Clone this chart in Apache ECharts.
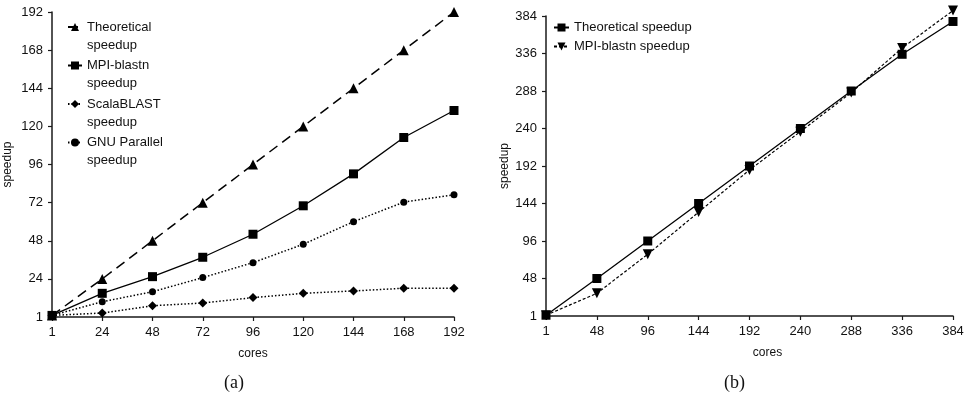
<!DOCTYPE html>
<html>
<head>
<meta charset="utf-8">
<script src="https://cdn.jsdelivr.net/npm/echarts@6/dist/echarts.min.js"></script>
<style>
html,body{margin:0;padding:0;background:#fff;}
#c{width:973px;height:405px;}
</style>
</head>
<body>
<div id="c"></div>
<script>
// ---- data: panel (a) ----
var coresA = ['1','24','48','72','96','120','144','168','192'];
var yLabelsA = ['1','24','48','72','96','120','144','168','192'];
var theoreticalA = [1, 24, 48, 72, 96, 120, 144, 168, 192];
var mpiBlastnA = [1, 14.9, 25.4, 37.6, 52.1, 70, 90.1, 113, 130];
var scalaBlastA = [1, 2.5, 7.1, 8.8, 12.2, 14.9, 16.4, 18.1, 18.1];
var gnuParallelA = [1, 9.6, 15.9, 24.8, 34.2, 45.8, 60, 72.3, 76.9];

// ---- data: panel (b) ----
var coresB = ['1','48','96','144','192','240','288','336','384'];
var yLabelsB = ['1','48','96','144','192','240','288','336','384'];
var theoreticalB = [1, 48, 96, 144, 192, 240, 288, 335, 377];
var mpiBlastnB = [1, 29, 79, 133, 187, 236, 286, 343, 391];

var FONT = 'Liberation Sans';
var AX = '#1a1a1a';

var chart = echarts.init(document.getElementById('c'), null, {renderer: 'canvas'});

function xAxisCfg(data, gridIndex, namePad) {
  return {
    type: 'category', gridIndex: gridIndex, data: data, boundaryGap: false,
    name: 'cores', nameLocation: 'middle', nameGap: 31,
    nameTextStyle: {fontFamily: FONT, fontSize: 12, color: '#111', padding: namePad},
    axisLine: {lineStyle: {color: AX, width: 1.5}},
    axisTick: {show: true, length: 4, lineStyle: {color: AX, width: 1.2}},
    axisLabel: {fontFamily: FONT, fontSize: 13, color: '#111', margin: 9},
    splitLine: {show: false}
  };
}
function yAxisCfg(labels, max, interval, gridIndex, nameGap) {
  return {
    type: 'value', gridIndex: gridIndex, min: 0, max: max, interval: interval,
    name: 'speedup', nameLocation: 'middle', nameGap: nameGap, nameRotate: 90,
    nameTextStyle: {fontFamily: FONT, fontSize: 12, color: '#111'},
    axisLine: {show: true, lineStyle: {color: AX, width: 1.5}},
    axisTick: {show: true, length: 4, lineStyle: {color: AX, width: 1.2}},
    axisLabel: {fontFamily: FONT, fontSize: 13, color: '#111', margin: 9,
      formatter: function (v) { return labels[Math.round(v / interval)]; }},
    splitLine: {show: false}
  };
}
function lineSeries(name, data, idx, symbol, size, lineType, width, rotate) {
  return {
    name: name, type: 'line', xAxisIndex: idx, yAxisIndex: idx, data: data,
    symbol: symbol, symbolSize: size, symbolRotate: rotate || 0, clip: false,
    showAllSymbol: true,
    lineStyle: {color: '#000', width: width, type: lineType},
    itemStyle: {color: '#000', borderWidth: 0},
    emphasis: {disabled: true}, animation: false
  };
}

chart.setOption({
  animation: false,
  backgroundColor: '#fff',
  textStyle: {fontFamily: FONT},
  grid: [
    {left: 52, right: 519, top: 12, bottom: 88, containLabel: false},
    {left: 546, right: 20, top: 16, bottom: 89, containLabel: false}
  ],
  xAxis: [xAxisCfg(coresA, 0, [0,0,0,0]), xAxisCfg(coresB, 1, [0,0,0,36])],
  yAxis: [yAxisCfg(yLabelsA, 192, 24, 0, 38), yAxisCfg(yLabelsB, 384, 48, 1, 35)],
  legend: [
    {
      left: 62, top: -5, orient: 'vertical', itemWidth: 14, itemHeight: 10, itemGap: -15.5,
      data: ['Theoretical speedup', 'MPI-blastn speedup', 'ScalaBLAST speedup', 'GNU Parallel speedup'],
      formatter: function (n) { return ' \n' + n.replace(' speedup', '\nspeedup'); },
      textStyle: {fontFamily: FONT, fontSize: 13, color: '#111', lineHeight: 18},
      selectedMode: false
    },
    {
      left: 548, top: 16, orient: 'vertical', itemWidth: 15, itemHeight: 10, itemGap: 6,
      data: ['b:Theoretical speedup', 'b:MPI-blastn speedup'],
      formatter: function (n) { return n.replace('b:', ''); },
      textStyle: {fontFamily: FONT, fontSize: 13, color: '#111'},
      selectedMode: false
    }
  ],
  graphic: [
    {type: 'text', left: 224, top: 374, style: {text: '(a)', font: '18px "Liberation Serif"', fill: '#111'}},
    {type: 'text', left: 724, top: 374, style: {text: '(b)', font: '18px "Liberation Serif"', fill: '#111'}}
  ],
  series: [
    lineSeries('Theoretical speedup', theoreticalA, 0, 'triangle', 10, [10, 6], 1.5),
    lineSeries('MPI-blastn speedup', mpiBlastnA, 0, 'rect', 9, 'solid', 1.3),
    lineSeries('ScalaBLAST speedup', scalaBlastA, 0, 'diamond', 9, [1.5, 2], 1.5),
    lineSeries('GNU Parallel speedup', gnuParallelA, 0, 'circle', 7, [1.5, 2], 1.5),
    lineSeries('b:Theoretical speedup', theoreticalB, 1, 'rect', 9, 'solid', 1.3),
    lineSeries('b:MPI-blastn speedup', mpiBlastnB, 1, 'triangle', 10, [3, 2], 1.2, 180)
  ]
});
</script>
</body>
</html>
